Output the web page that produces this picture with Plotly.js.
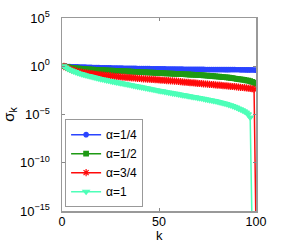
<!DOCTYPE html>
<html>
<head>
<meta charset="utf-8">
<script src="https://cdn.plot.ly/plotly-3.0.1.min.js"></script>
<style>html,body{margin:0;padding:0;background:#fff;}#chart{width:295px;height:244px;}</style>
</head>
<body>
<div id="chart"></div>
<script>
// log10(sigma_k), k = 1..100
const expAlpha14 = [0,-0.02,-0.03,-0.04,-0.05,-0.06,-0.065,-0.07,-0.08,-0.09,
 -0.095,-0.10,-0.11,-0.115,-0.12,-0.13,-0.135,-0.14,-0.15,-0.155,
 -0.16,-0.165,-0.17,-0.17,-0.175,-0.18,-0.185,-0.19,-0.195,-0.2,
 -0.2,-0.205,-0.21,-0.215,-0.22,-0.22,-0.225,-0.23,-0.235,-0.24,
 -0.24,-0.245,-0.25,-0.25,-0.255,-0.26,-0.26,-0.265,-0.27,-0.27,
 -0.275,-0.28,-0.28,-0.285,-0.29,-0.29,-0.295,-0.295,-0.3,-0.3,
 -0.305,-0.305,-0.31,-0.31,-0.315,-0.315,-0.32,-0.32,-0.325,-0.325,
 -0.33,-0.33,-0.33,-0.335,-0.335,-0.34,-0.34,-0.34,-0.345,-0.345,
 -0.35,-0.35,-0.35,-0.355,-0.355,-0.355,-0.36,-0.36,-0.36,-0.365,
 -0.365,-0.37,-0.37,-0.37,-0.375,-0.375,-0.38,-0.385,-0.39,-0.41];
const expAlpha12 = [0,-0.05,-0.09,-0.13,-0.16,-0.19,-0.21,-0.23,-0.25,-0.27,
 -0.28,-0.3,-0.31,-0.33,-0.34,-0.35,-0.37,-0.38,-0.39,-0.4,
 -0.41,-0.42,-0.43,-0.44,-0.45,-0.46,-0.47,-0.48,-0.49,-0.5,
 -0.51,-0.52,-0.53,-0.54,-0.55,-0.56,-0.57,-0.58,-0.59,-0.6,
 -0.61,-0.62,-0.63,-0.64,-0.65,-0.66,-0.67,-0.68,-0.69,-0.7,
 -0.71,-0.72,-0.73,-0.74,-0.75,-0.76,-0.77,-0.78,-0.79,-0.8,
 -0.81,-0.82,-0.83,-0.84,-0.85,-0.86,-0.87,-0.88,-0.89,-0.9,
 -0.91,-0.93,-0.94,-0.96,-0.97,-0.99,-1.0,-1.02,-1.04,-1.06,
 -1.08,-1.1,-1.12,-1.14,-1.16,-1.18,-1.21,-1.24,-1.27,-1.3,
 -1.33,-1.36,-1.39,-1.42,-1.46,-1.5,-1.55,-1.61,-1.69,-1.82];
const expAlpha34 = [0,-0.12,-0.22,-0.3,-0.37,-0.43,-0.48,-0.53,-0.57,-0.61,
 -0.65,-0.68,-0.71,-0.74,-0.77,-0.8,-0.83,-0.86,-0.88,-0.9,
 -0.92,-0.94,-0.96,-0.98,-1.0,-1.02,-1.04,-1.06,-1.08,-1.1,
 -1.12,-1.13,-1.15,-1.17,-1.18,-1.2,-1.22,-1.23,-1.25,-1.27,
 -1.28,-1.3,-1.31,-1.33,-1.34,-1.36,-1.37,-1.39,-1.4,-1.42,
 -1.43,-1.45,-1.46,-1.48,-1.49,-1.51,-1.52,-1.54,-1.55,-1.57,
 -1.6,-1.62,-1.64,-1.66,-1.68,-1.7,-1.71,-1.73,-1.75,-1.77,
 -1.79,-1.8,-1.82,-1.84,-1.86,-1.87,-1.89,-1.91,-1.93,-1.95,
 -1.96,-1.98,-2.0,-2.02,-2.04,-2.06,-2.08,-2.1,-2.12,-2.14,
 -2.16,-2.18,-2.2,-2.22,-2.25,-2.27,-2.3,-2.33,-2.38,-17];
const expAlpha1 = [0,-0.13,-0.25,-0.35,-0.44,-0.52,-0.6,-0.67,-0.74,-0.8,
 -0.86,-0.92,-0.97,-1.02,-1.07,-1.12,-1.17,-1.22,-1.27,-1.32,
 -1.36,-1.4,-1.45,-1.49,-1.53,-1.57,-1.61,-1.65,-1.69,-1.73,
 -1.77,-1.81,-1.85,-1.89,-1.93,-1.97,-2.01,-2.05,-2.09,-2.13,
 -2.17,-2.21,-2.25,-2.29,-2.33,-2.37,-2.41,-2.45,-2.49,-2.53,
 -2.57,-2.6,-2.64,-2.68,-2.71,-2.75,-2.79,-2.82,-2.86,-2.9,
 -2.93,-2.97,-3.0,-3.04,-3.08,-3.11,-3.15,-3.19,-3.22,-3.26,
 -3.3,-3.33,-3.37,-3.41,-3.45,-3.49,-3.53,-3.57,-3.61,-3.65,
 -3.7,-3.75,-3.8,-3.86,-3.92,-3.98,-4.05,-4.12,-4.2,-4.28,
 -4.37,-4.46,-4.56,-4.67,-4.8,-4.97,-5.3,-17,-17,-17];
const seriesNames = ['α=1/4','α=1/2','α=3/4','α=1'];
const xTickVals = [0,50,100];
const yTickVals = [1e-15,1e-10,1e-5,1,1e5];
const yTickText = ['10<sup>−15</sup>','10<sup>−10</sup>','10<sup>−5</sup>','10<sup>0</sup>','10<sup>5</sup>'];
const xTitle = 'k';

const k = expAlpha14.map((_, i) => i + 1);
const toSigma = e => e.map(v => Math.pow(10, v));

const styles = [
  {color:'#2a44ff', symbol:'circle', size:4.5},
  {color:'#1e9a14', symbol:'square', size:4.5},
  {color:'#ff0a0a', symbol:'asterisk-open', size:6},
  {color:'#4dffb8', symbol:'triangle-down', size:5.5}
];
const allExp = [expAlpha14, expAlpha12, expAlpha34, expAlpha1];
const traces = allExp.map((e, i) => ({
  x: k, y: toSigma(e), type:'scatter', mode:'lines+markers', name: seriesNames[i],
  line:{color: styles[i].color, width:1.5},
  marker:{color: styles[i].color, symbol: styles[i].symbol, size: styles[i].size,
          line:{color: styles[i].color, width: 1.2}}
}));

const layout = {
  width:295, height:244,
  margin:{l:62, r:39, t:18, b:33},
  paper_bgcolor:'#fff', plot_bgcolor:'#fff',
  font:{family:'Liberation Sans, Arial, sans-serif', size:13, color:'#000'},
  showlegend:true,
  legend:{x:0.016, y:0.02, xanchor:'left', yanchor:'bottom', bgcolor:'#fff',
          bordercolor:'#999', borderwidth:1, font:{size:12}, tracegroupgap:0,
          itemwidth:30},
  xaxis:{range:[0,100], tickvals:xTickVals, ticktext:xTickVals.map(String),
         ticks:'inside', ticklen:3, tickcolor:'#888', showgrid:false, zeroline:false,
         showline:true, linecolor:'#999', linewidth:1.5, mirror:'ticks',
         tickfont:{size:12.5}, ticklabelstandoff:-2, automargin:false},
  yaxis:{type:'log', range:[-15,5], tickvals:yTickVals, ticktext:yTickText,
         ticks:'inside', ticklen:3, tickcolor:'#888', showgrid:false, zeroline:false,
         showline:true, linecolor:'#999', linewidth:1.5, mirror:'ticks',
         ticklabelstandoff:8, automargin:false,
         title:{text:'σ<sub>k</sub>', standoff:2, font:{size:15}}},
  annotations:[{text:xTitle, xref:'paper', yref:'paper', x:0.5, y:0,
                xanchor:'center', yanchor:'bottom', yshift:-33, showarrow:false,
                borderpad:0, font:{size:13}}]
};
Plotly.newPlot('chart', traces, layout, {staticPlot:true, displayModeBar:false});
</script>
</body>
</html>
